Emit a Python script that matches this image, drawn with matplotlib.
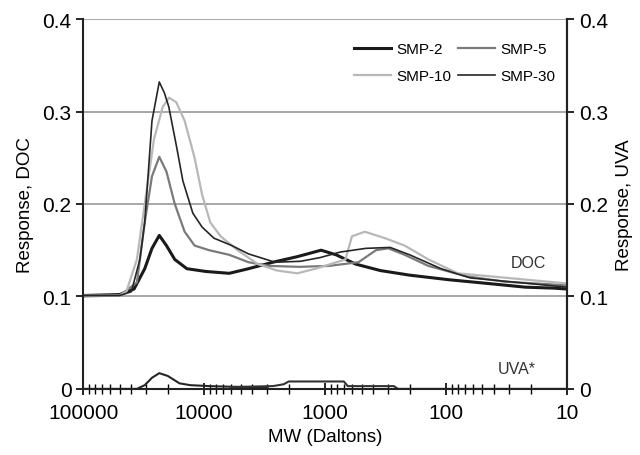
import matplotlib.pyplot as plt
import numpy as np

plt.rcParams['font.family'] = 'Liberation Sans'

# Values (MW in Daltons, response)
mw_smp2 = [100000, 50000, 38000, 31000, 27000, 23500, 20500, 17500, 13900, 9700, 6200, 4300, 2700, 1700, 1080, 810, 560, 350, 200, 94, 45, 22, 13, 10]
doc_smp2 = [0.101, 0.102, 0.108, 0.130, 0.152, 0.166, 0.155, 0.140, 0.130, 0.127, 0.125, 0.130, 0.137, 0.143, 0.150, 0.145, 0.135, 0.128, 0.123, 0.118, 0.114, 0.110, 0.109, 0.108]

mw_smp5 = [100000, 50000, 36000, 31000, 27000, 23500, 20500, 17500, 14500, 12000, 9100, 6200, 4300, 2900, 1640, 930, 530, 380, 300, 220, 140, 69, 33, 10]
doc_smp5 = [0.100, 0.101, 0.115, 0.180, 0.230, 0.251, 0.235, 0.200, 0.170, 0.155, 0.150, 0.145, 0.137, 0.133, 0.132, 0.133, 0.137, 0.150, 0.152, 0.145, 0.133, 0.122, 0.116, 0.112]

mw_smp10 = [100000, 50000, 44000, 36000, 31000, 26000, 22000, 19500, 17000, 14500, 12000, 10400, 8900, 7300, 5300, 3600, 2500, 1700, 1200, 900, 680, 600, 470, 320, 220, 140, 80, 10]
doc_smp10 = [0.101, 0.101, 0.105, 0.140, 0.200, 0.270, 0.305, 0.315, 0.310, 0.290, 0.250, 0.210, 0.180, 0.165, 0.150, 0.135, 0.128, 0.125, 0.130, 0.135, 0.140, 0.165, 0.170, 0.163, 0.155, 0.140, 0.125, 0.114]

mw_smp30 = [100000, 50000, 40000, 34000, 31000, 27000, 23500, 21300, 19600, 16800, 15000, 12400, 10400, 8300, 5900, 4300, 2600, 1600, 1100, 750, 460, 290, 200, 110, 63, 10]
doc_smp30 = [0.101, 0.101, 0.105, 0.140, 0.180, 0.290, 0.332, 0.320, 0.305, 0.260, 0.225, 0.190, 0.175, 0.163, 0.155, 0.146, 0.137, 0.138, 0.142, 0.148, 0.152, 0.153, 0.145, 0.130, 0.120, 0.110]

mw_uva_a = [100000, 36000, 31000, 27000, 23500, 20000, 16000, 13000, 9000, 5000, 3000]
uva_a = [0.0, 0.0, 0.004, 0.012, 0.017, 0.014, 0.006, 0.004, 0.003, 0.002, 0.001]

mw_uva_b = [6000, 2700, 2200, 2000, 1000, 700, 650, 270, 250, 10]
uva_b = [0.002, 0.003, 0.005, 0.008, 0.008, 0.008, 0.003, 0.003, 0.0, 0.0]

fig = plt.figure(figsize=(6.4, 4.56), dpi=100)
ax = fig.add_axes([0.13, 0.145, 0.756, 0.811])

ax.set_xscale('log')
ax.set_xlim(100000, 10)
ax.set_ylim(0, 0.4)

# horizontal gridlines
for g in [0.1, 0.2, 0.3, 0.4]:
    ax.axhline(g, color='#a0a0a0', lw=1.3, zorder=0)

l2, = ax.plot(mw_smp2, doc_smp2, color='#1a1a1a', lw=2.2, label='SMP-2')
l5, = ax.plot(mw_smp5, doc_smp5, color='#7a7a7a', lw=1.6, label='SMP-5')
l10, = ax.plot(mw_smp10, doc_smp10, color='#b8b8b8', lw=1.6, label='SMP-10')
l30, = ax.plot(mw_smp30, doc_smp30, color='#262626', lw=1.2, label='SMP-30')

ax.plot(mw_uva_a, uva_a, color='#262626', lw=1.5)
ax.plot(mw_uva_b, uva_b, color='#333333', lw=1.5)

ax.text(21, 0.137, 'DOC', fontsize=11.5, color='#333333', ha='center', va='center')
ax.text(26, 0.022, 'UVA*', fontsize=11.5, color='#333333', ha='center', va='center')

ax.spines['top'].set_visible(False)
for s in ['left', 'right', 'bottom']:
    ax.spines[s].set_color('#222222')
    ax.spines[s].set_linewidth(1.5)

ax.set_yticks([0, 0.1, 0.2, 0.3, 0.4])
ax.set_yticklabels(['0', '0.1', '0.2', '0.3', '0.4'])
ax.set_xticks([100000, 10000, 1000, 100, 10])
ax.set_xticklabels(['100000', '10000', '1000', '100', '10'])
ax.tick_params(axis='x', which='major', direction='inout', length=9, width=1.2, labelsize=15, pad=6)
ax.tick_params(axis='x', which='minor', direction='inout', length=7, width=1.0)
ax.tick_params(axis='y', direction='out', length=5, width=1.2, labelsize=15)
ax.set_xlabel('MW (Daltons)', fontsize=13.5)
ax.set_ylabel('Response, DOC', fontsize=13.5, labelpad=6)

ax2 = ax.twinx()
ax2.set_ylim(0, 0.4)
ax2.set_yticks([0, 0.1, 0.2, 0.3, 0.4])
ax2.set_yticklabels(['0', '0.1', '0.2', '0.3', '0.4'])
ax2.tick_params(axis='y', direction='out', length=5, width=1.2, labelsize=15)
ax2.set_ylabel('Response, UVA', fontsize=13.5, labelpad=6)
for s in ['top', 'left', 'bottom']:
    ax2.spines[s].set_visible(False)
ax2.spines['right'].set_color('#222222')
ax2.spines['right'].set_linewidth(1.5)

# order so that rows read SMP-2, SMP-5 / SMP-10, SMP-30
ax.legend([l2, l10, l5, l30], ['SMP-2', 'SMP-10', 'SMP-5', 'SMP-30'],
          loc='upper right', bbox_to_anchor=(1.005, 0.975), ncol=2, frameon=False,
          fontsize=11, handlelength=2.4, columnspacing=0.4, handletextpad=0.4, labelspacing=0.85)

plt.savefig('out.png', dpi=100)
